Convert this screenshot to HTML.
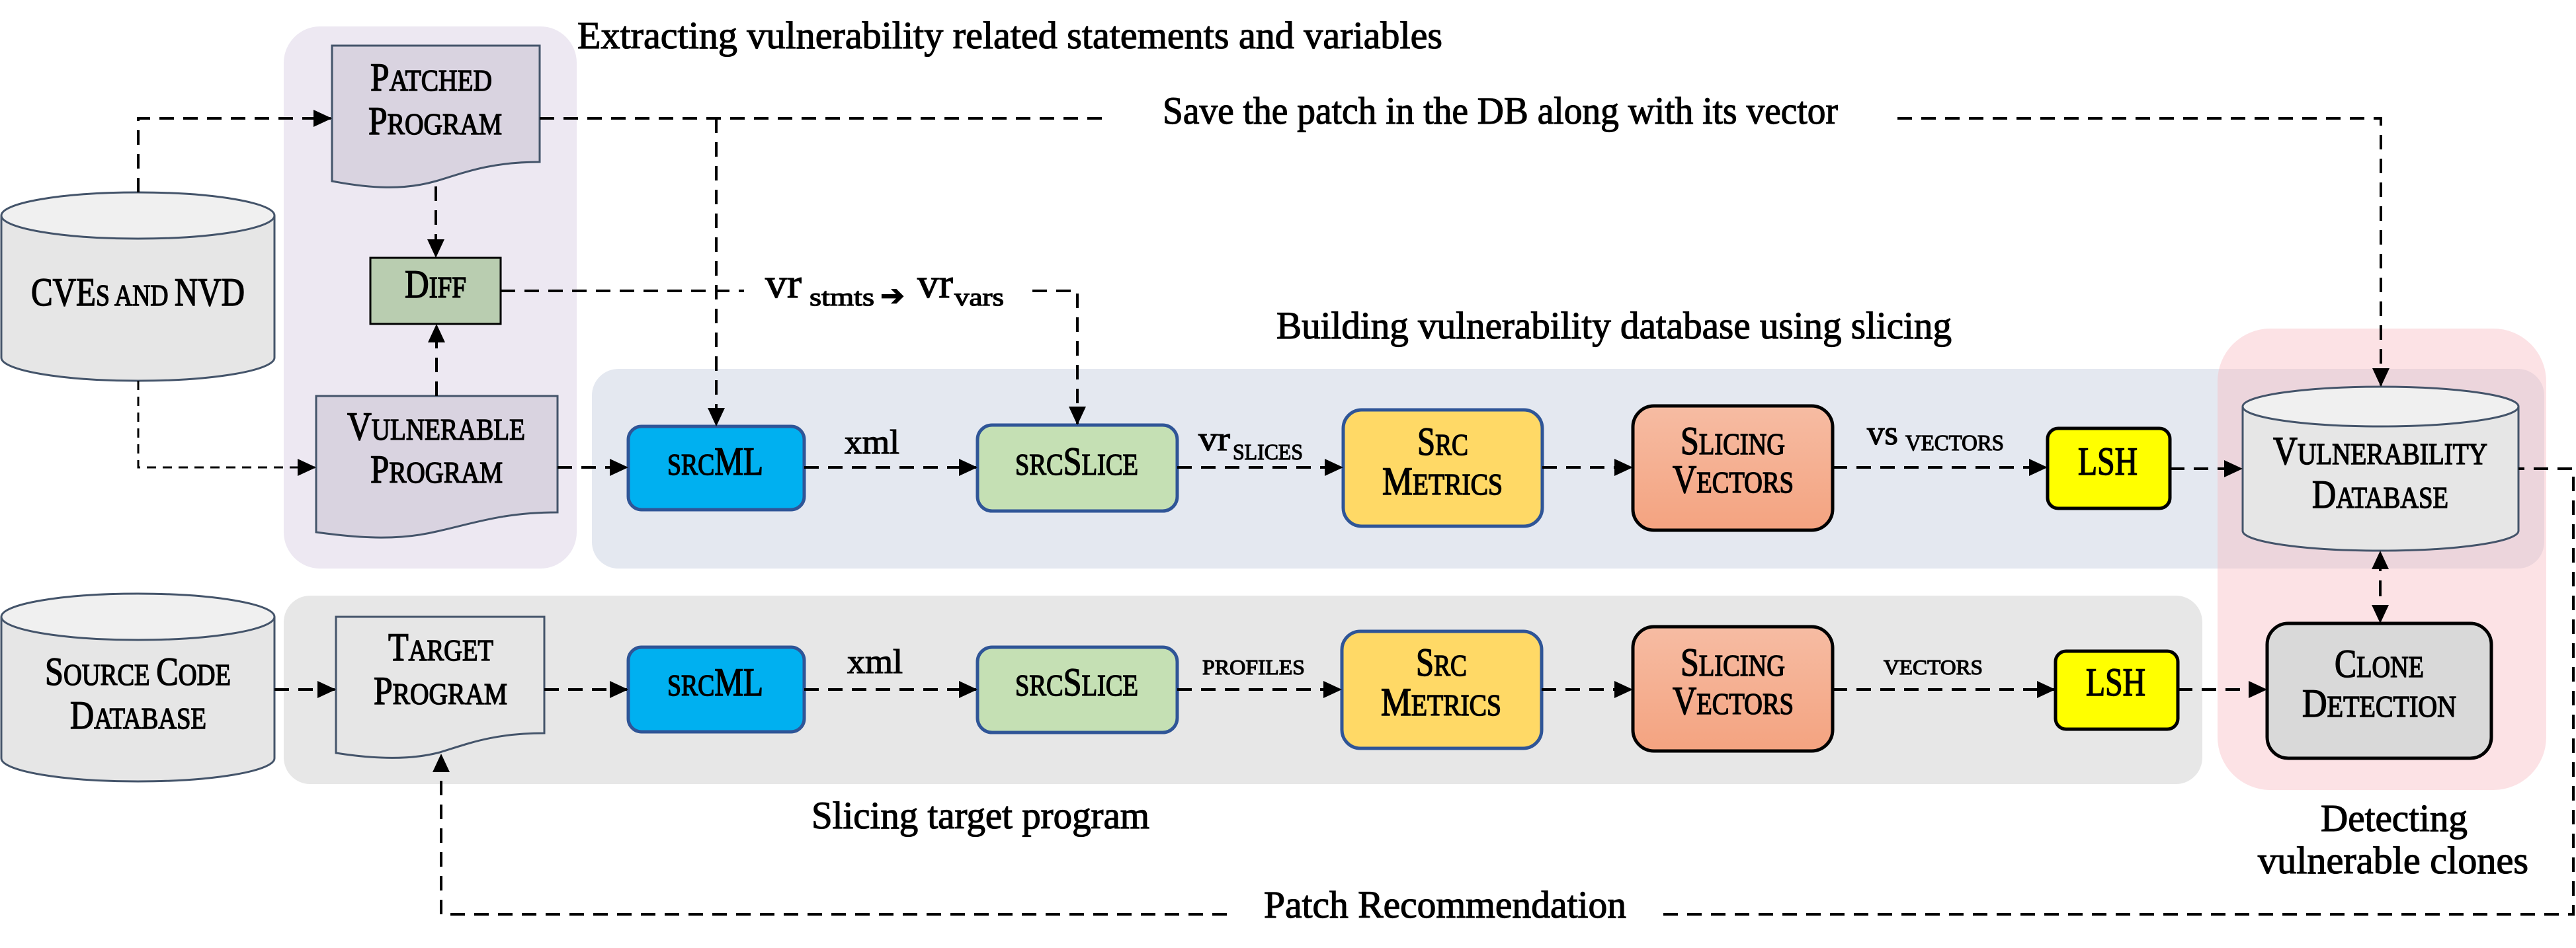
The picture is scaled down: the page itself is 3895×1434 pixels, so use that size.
<!DOCTYPE html>
<html><head><meta charset="utf-8"><style>
html,body{margin:0;padding:0;background:#fff;}
svg{display:block;font-family:"Liberation Serif",serif;}
</style></head><body>
<svg width="3895" height="1434" viewBox="0 0 3895 1434" xmlns="http://www.w3.org/2000/svg">
<defs>
<marker id="ah" markerWidth="28" markerHeight="26" refX="26" refY="13" orient="auto" markerUnits="userSpaceOnUse"><path d="M0,0 L28,13 L0,26 Z" fill="#000"/></marker>
<linearGradient id="sv" x1="0" y1="0" x2="0" y2="1"><stop offset="0" stop-color="#f6bca3"/><stop offset="1" stop-color="#f4a380"/></linearGradient>
</defs>
<rect x="429" y="40" width="443" height="820" rx="55" fill="#ede8f2"/>
<rect x="895" y="558" width="2952" height="302" rx="40" fill="#e4e8f0"/>
<rect x="429" y="901" width="2901" height="285" rx="40" fill="#e7e7e7"/>
<rect x="3353" y="497" width="497" height="698" rx="80" fill="rgb(248,185,192)" fill-opacity="0.42"/>

<g stroke="#44546a" stroke-width="3">
<path d="M2,326 V541 A206.5,35 0 0 0 415,541 V326" fill="#e6e6e6"/>
<ellipse cx="208.5" cy="326" rx="206.5" ry="35" fill="#f0f0f0"/>
<path d="M2,933 V1147 A206.5,35 0 0 0 415,1147 V933" fill="#e6e6e6"/>
<ellipse cx="208.5" cy="933" rx="206.5" ry="35" fill="#f0f0f0"/>
<path d="M3391,615 V803 A208.5,30 0 0 0 3808,803 V615" fill="#e6e6e6"/>
<ellipse cx="3599.5" cy="615" rx="208.5" ry="30" fill="#f0f0f0"/>
</g>

<g stroke="#44546a" stroke-width="3">
<path d="M502,69 H816 V245 C740,245 700,262 659,274 C610,288 560,285 502,274 Z" fill="#d9d3e0"/>
<path d="M478,599 H843 V775 C760,775 715,792 660,804 C605,817 550,815 478,805 Z" fill="#d9d3e0"/>
<path d="M508,933 H823 V1109 C745,1109 705,1126 665,1138 C620,1150 565,1148 508,1139 Z" fill="#e6e6e6"/>
</g>

<rect x="560" y="390" width="197" height="100" fill="#b9cdb0" stroke="#000" stroke-width="3"/>
<g stroke="#2f5597" stroke-width="5">
<rect x="950" y="645" width="266" height="126" rx="20" fill="#00b0f0"/>
<rect x="950" y="979" width="266" height="128" rx="20" fill="#00b0f0"/>
<rect x="1478" y="643" width="302" height="130" rx="22" fill="#c5e0b4"/>
<rect x="1478" y="979" width="302" height="129" rx="22" fill="#c5e0b4"/>
<rect x="2031" y="620" width="301" height="176" rx="28" fill="#ffd966"/>
<rect x="2029" y="955" width="302" height="177" rx="28" fill="#ffd966"/>
</g>
<g stroke="#000" stroke-width="5">
<rect x="2469" y="614" width="302" height="188" rx="32" fill="url(#sv)"/>
<rect x="2469" y="948" width="302" height="188" rx="32" fill="url(#sv)"/>
<rect x="3096" y="648" width="185" height="121" rx="16" fill="#ffff00"/>
<rect x="3108" y="985" width="185" height="118" rx="16" fill="#ffff00"/>
<rect x="3428" y="943" width="339" height="204" rx="32" fill="#d9d9d9"/>
</g>

<g fill="none" stroke="#000" stroke-width="4" stroke-dasharray="22 14">
<path d="M209,291 V179 H500" marker-end="url(#ah)"/>
<path d="M209,576 V707 H476" marker-end="url(#ah)" stroke-width="3" stroke-dasharray="14 10"/>
<path d="M659,282 V388" marker-end="url(#ah)"/>
<path d="M660,599 V492" marker-end="url(#ah)"/>
<path d="M816,179 H1669"/>
<path d="M1083,179 V643" marker-end="url(#ah)"/>
<path d="M757,440 H1125"/>
<path d="M1561,440 H1629 V641" marker-end="url(#ah)"/>
<path d="M2869,179 H3600 V583" marker-end="url(#ah)"/>
<path d="M843,707 H948" marker-end="url(#ah)"/>
<path d="M1216,707 H1476" marker-end="url(#ah)"/>
<path d="M1780,707 H2029" marker-end="url(#ah)"/>
<path d="M2332,707 H2467" marker-end="url(#ah)"/>
<path d="M2771,707 H3094" marker-end="url(#ah)"/>
<path d="M3281,709 H3389" marker-end="url(#ah)"/>
<path d="M415,1043 H506" marker-end="url(#ah)"/>
<path d="M823,1043 H948" marker-end="url(#ah)"/>
<path d="M1216,1043 H1476" marker-end="url(#ah)"/>
<path d="M1780,1043 H2027" marker-end="url(#ah)"/>
<path d="M2331,1043 H2467" marker-end="url(#ah)"/>
<path d="M2771,1043 H3106" marker-end="url(#ah)"/>
<path d="M3293,1043 H3426" marker-end="url(#ah)"/>
<path d="M3599,880 V941" marker-end="url(#ah)"/>
<path d="M3599,900 V835" marker-end="url(#ah)"/>
<path d="M1855,1383 H667 V1142" marker-end="url(#ah)"/>
<path d="M2515,1383 H3891 V709 H3808"/>
</g>

<g fill="#000" stroke="#000" stroke-width="1.2" font-size="58">
<text x="873" y="73" textLength="1308" lengthAdjust="spacingAndGlyphs">Extracting vulnerability related statements and variables</text>
<text x="1758" y="187" textLength="1021" lengthAdjust="spacingAndGlyphs">Save the patch in the DB along with its vector</text>
<text x="1930" y="512" textLength="1021" lengthAdjust="spacingAndGlyphs">Building vulnerability database using slicing</text>
<text x="1227" y="1253" textLength="511" lengthAdjust="spacingAndGlyphs">Slicing target program</text>
<text x="1911" y="1388" textLength="548" lengthAdjust="spacingAndGlyphs">Patch Recommendation</text>
<text x="3509" y="1257" textLength="222" lengthAdjust="spacingAndGlyphs">Detecting</text>
<text x="3414" y="1321" textLength="409" lengthAdjust="spacingAndGlyphs">vulnerable clones</text>
</g>
<g fill="#000" stroke="#000" stroke-width="1.2">
<text x="1157" y="450" font-size="64" textLength="55" lengthAdjust="spacingAndGlyphs">vr</text>
<text x="1224" y="462" font-size="38" textLength="98" lengthAdjust="spacingAndGlyphs">stmts</text>
<text x="1331" y="462" font-size="44">➔</text>
<text x="1387" y="450" font-size="64" textLength="54" lengthAdjust="spacingAndGlyphs">vr</text>
<text x="1443" y="462" font-size="38" textLength="75" lengthAdjust="spacingAndGlyphs">vars</text>
<text x="1277" y="686" font-size="52" textLength="83" lengthAdjust="spacingAndGlyphs">xml</text>
<text x="1281" y="1018" font-size="52" textLength="84" lengthAdjust="spacingAndGlyphs">xml</text>
<text x="1812" y="681" font-size="52" textLength="48" lengthAdjust="spacingAndGlyphs">vr</text>
<text x="1864" y="695" font-size="34" textLength="106" lengthAdjust="spacingAndGlyphs">SLICES</text>
<text x="1818" y="1020" font-size="32" textLength="155" lengthAdjust="spacingAndGlyphs">PROFILES</text>
<text x="2823" y="672" font-size="52" textLength="47" lengthAdjust="spacingAndGlyphs">vs</text>
<text x="2881" y="681" font-size="34" textLength="149" lengthAdjust="spacingAndGlyphs">VECTORS</text>
<text x="2848" y="1020" font-size="32" textLength="150" lengthAdjust="spacingAndGlyphs">VECTORS</text>
</g>

<g fill="#000" stroke="#000" stroke-width="1.5" font-size="60">
<text x="560" y="137" textLength="184" lengthAdjust="spacingAndGlyphs">P<tspan font-size="46">ATCHED</tspan></text>
<text x="557" y="203" textLength="202" lengthAdjust="spacingAndGlyphs">P<tspan font-size="46">ROGRAM</tspan></text>
<text x="612" y="450" textLength="93" lengthAdjust="spacingAndGlyphs">D<tspan font-size="46">IFF</tspan></text>
<text x="525" y="665" textLength="269" lengthAdjust="spacingAndGlyphs">V<tspan font-size="46">ULNERABLE</tspan></text>
<text x="560" y="730" textLength="200" lengthAdjust="spacingAndGlyphs">P<tspan font-size="46">ROGRAM</tspan></text>
<text x="47" y="462" textLength="323" lengthAdjust="spacingAndGlyphs">CVE<tspan font-size="46">S AND </tspan>NVD</text>
<text x="587" y="999" textLength="159" lengthAdjust="spacingAndGlyphs">T<tspan font-size="46">ARGET</tspan></text>
<text x="565" y="1065" textLength="202" lengthAdjust="spacingAndGlyphs">P<tspan font-size="46">ROGRAM</tspan></text>
<text x="68" y="1036" textLength="281" lengthAdjust="spacingAndGlyphs">S<tspan font-size="46">OURCE </tspan>C<tspan font-size="46">ODE</tspan></text>
<text x="106" y="1102" textLength="206" lengthAdjust="spacingAndGlyphs">D<tspan font-size="46">ATABASE</tspan></text>
<text x="1009" y="718" textLength="145" lengthAdjust="spacingAndGlyphs"><tspan font-size="46">SRC</tspan>ML</text>
<text x="1009" y="1052" textLength="145" lengthAdjust="spacingAndGlyphs"><tspan font-size="46">SRC</tspan>ML</text>
<text x="1535" y="718" textLength="186" lengthAdjust="spacingAndGlyphs"><tspan font-size="46">SRC</tspan>S<tspan font-size="46">LICE</tspan></text>
<text x="1535" y="1052" textLength="186" lengthAdjust="spacingAndGlyphs"><tspan font-size="46">SRC</tspan>S<tspan font-size="46">LICE</tspan></text>
<text x="2143" y="688" textLength="77" lengthAdjust="spacingAndGlyphs">S<tspan font-size="46">RC</tspan></text>
<text x="2090" y="748" textLength="182" lengthAdjust="spacingAndGlyphs">M<tspan font-size="46">ETRICS</tspan></text>
<text x="2141" y="1022" textLength="77" lengthAdjust="spacingAndGlyphs">S<tspan font-size="46">RC</tspan></text>
<text x="2088" y="1082" textLength="182" lengthAdjust="spacingAndGlyphs">M<tspan font-size="46">ETRICS</tspan></text>
<text x="2541" y="687" textLength="158" lengthAdjust="spacingAndGlyphs">S<tspan font-size="46">LICING</tspan></text>
<text x="2529" y="745" textLength="183" lengthAdjust="spacingAndGlyphs">V<tspan font-size="46">ECTORS</tspan></text>
<text x="2541" y="1022" textLength="158" lengthAdjust="spacingAndGlyphs">S<tspan font-size="46">LICING</tspan></text>
<text x="2529" y="1080" textLength="183" lengthAdjust="spacingAndGlyphs">V<tspan font-size="46">ECTORS</tspan></text>
<text x="3142" y="718" textLength="90" lengthAdjust="spacingAndGlyphs">LSH</text>
<text x="3154" y="1052" textLength="90" lengthAdjust="spacingAndGlyphs">LSH</text>
<text x="3437" y="702" textLength="324" lengthAdjust="spacingAndGlyphs">V<tspan font-size="46">ULNERABILITY</tspan></text>
<text x="3496" y="768" textLength="206" lengthAdjust="spacingAndGlyphs">D<tspan font-size="46">ATABASE</tspan></text>
<text x="3530" y="1024" textLength="135" lengthAdjust="spacingAndGlyphs">C<tspan font-size="46">LONE</tspan></text>
<text x="3481" y="1084" textLength="233" lengthAdjust="spacingAndGlyphs">D<tspan font-size="46">ETECTION</tspan></text>
</g>
</svg>
</body></html>
